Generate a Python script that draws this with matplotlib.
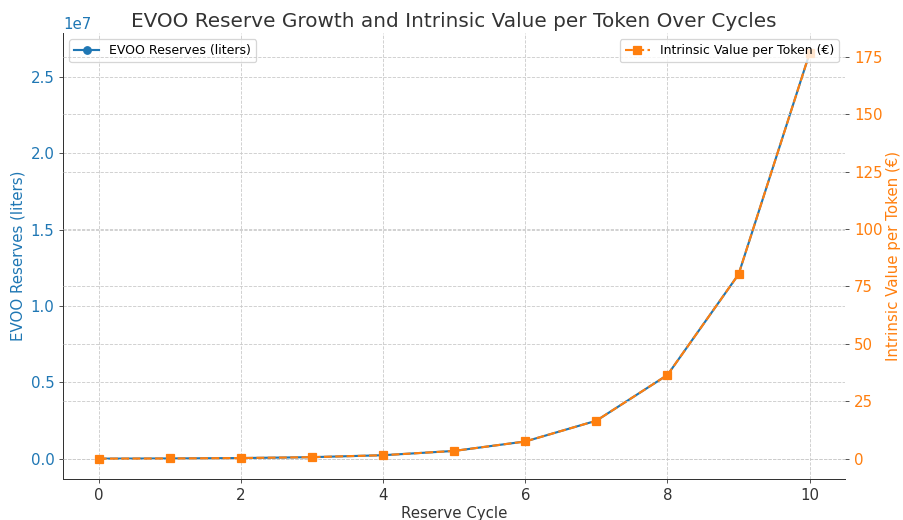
import matplotlib
matplotlib.use("Agg")
import matplotlib.pyplot as plt

# reserve cycles and values
cycles = [0, 1, 2, 3, 4, 5, 6, 7, 8, 9, 10]
reserves = [10000, 22000, 48400, 106480, 234256, 515363, 1133799,
            2494358, 5487587, 12072692, 26559922]
value_per_token = [0.067, 0.146, 0.322, 0.708, 1.558, 3.427, 7.54,
                   16.59, 36.49, 80.28, 176.6]

blue = "#1f77b4"
orange = "#ff7f0e"

fig, ax1 = plt.subplots(figsize=(903 / 90, 520 / 90), dpi=90)

ax1.plot(cycles, reserves, color=blue, marker="o", linewidth=1.7, markersize=6,
         label="EVOO Reserves (liters)")
ax1.set_xlabel("Reserve Cycle", fontsize=12, color="#333333", labelpad=3)
ax1.set_ylabel("EVOO Reserves (liters)", fontsize=12, color=blue)
ax1.tick_params(axis="y", labelcolor=blue, labelsize=12, color="#555555")
ax1.tick_params(axis="x", labelsize=12, labelcolor="#333333", color="#555555")
ax1.yaxis.get_offset_text().set_color(blue)
ax1.yaxis.get_offset_text().set_fontsize(12)
ax1.grid(True, linestyle="--", color="#cccccc", linewidth=0.7)

ax2 = ax1.twinx()
ax2.plot(cycles, value_per_token, color=orange, marker="s", linestyle="--",
         linewidth=1.7, markersize=6, label="Intrinsic Value per Token (€)")
ax2.set_ylabel("Intrinsic Value per Token (€)", fontsize=12, color=orange,
               labelpad=3)
ax2.tick_params(axis="y", labelcolor=orange, labelsize=12, color="#555555")
ax2.grid(True, linestyle="--", color="#cccccc", linewidth=0.7)

for ax in (ax1, ax2):
    ax.spines["top"].set_visible(False)
    ax.spines["right"].set_visible(False)
ax1.spines["left"].set_color("#333333")
ax1.spines["bottom"].set_color("#333333")
ax2.spines["left"].set_visible(False)
ax2.spines["bottom"].set_visible(False)

ax1.legend(loc="upper left", fontsize=10)
ax2.legend(loc="upper right", fontsize=10)

plt.title("EVOO Reserve Growth and Intrinsic Value per Token Over Cycles",
          fontsize=16, color="#333333", pad=5)
plt.subplots_adjust(left=0.070, right=0.936, top=0.937, bottom=0.079)
plt.savefig("out.png")
